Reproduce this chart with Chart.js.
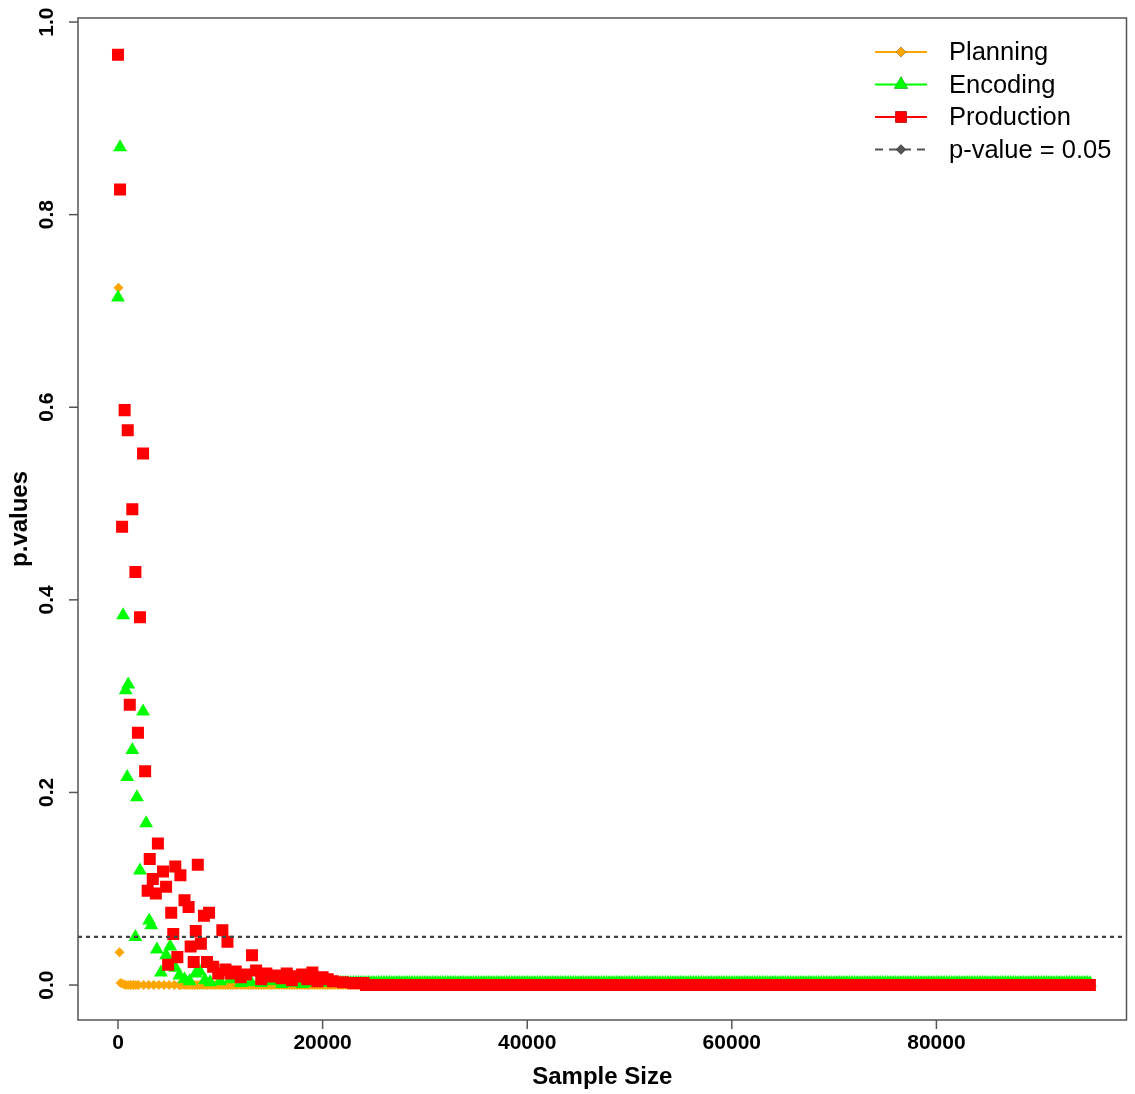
<!DOCTYPE html>
<html>
<head>
<meta charset="utf-8">
<script src="https://cdn.jsdelivr.net/npm/chart.js@4"></script>
<style>
  html, body { margin: 0; padding: 0; background: #fff; }
  #wrap { width: 1135px; height: 1094px; }
</style>
</head>
<body>
<div id="wrap"><canvas id="c"></canvas></div>
<script>
// ── Data ───────────────────────────────────────────────────────────

const X_TICKS = [0, 20000, 40000, 60000, 80000];
const Y_TICKS = [0.0, 0.2, 0.4, 0.6, 0.8, 1.0];
const Y_TICK_LABELS = ['0.0', '0.2', '0.4', '0.6', '0.8', '1.0'];

// early, clearly separated points
const planX = [50, 150, 250, 500, 750, 1000, 1250, 1500, 1750, 2000, 2500, 3000, 3500, 4000, 4500, 5000, 5500, 6000];
const planY = [0.724, 0.034, 0.002, 0.001, 0.0, 0.0, 0.0, 0.0, 0.0, 0.0, 0.0, 0.0, 0.0, 0.0, 0.0, 0.0, 0.0, 0.0];

const encX = [0, 200, 500, 750, 1000, 900, 1400, 1850, 2150, 2450, 2750, 3050, 3250, 1700,
  3800, 4200, 4700, 5100, 5600, 6000, 6500, 7000, 7600, 8000, 8500, 9000, 10000, 11000, 12000, 13000, 14000, 15000, 16000, 17000, 18000];
const encY = [0.714, 0.870, 0.384, 0.306, 0.312, 0.216, 0.244, 0.195, 0.119, 0.284, 0.168, 0.067, 0.062, 0.050,
  0.037, 0.013, 0.031, 0.040, 0.018, 0.010, 0.006, 0.004, 0.012, 0.014, 0.005, 0.003, 0.004, 0.006, 0.002, 0.003, 0.002, 0.004, 0.001, 0.002, 0.001];

const prodX = [0, 200, 400, 650, 950, 1150, 1400, 1700, 1950, 2150, 2450, 2650,
  3900, 3100, 4400, 5600, 6100, 7800, 3400, 2900, 3700, 4700, 6500, 6900, 5200, 8400, 8900,
  5400, 7600, 10200, 7100, 8100, 10700, 5800, 4900, 7400, 8700, 9300, 13100];
const prodY = [0.966, 0.826, 0.476, 0.597, 0.576, 0.291, 0.494, 0.429, 0.262, 0.382, 0.552, 0.222,
  0.147, 0.131, 0.118, 0.123, 0.114, 0.125, 0.110, 0.098, 0.095, 0.102, 0.088, 0.081, 0.075, 0.072, 0.075,
  0.053, 0.056, 0.057, 0.040, 0.043, 0.045, 0.029, 0.021, 0.024, 0.024, 0.019, 0.031];

// 10000–24000 band of red squares just above zero
const prodMidX = [9800, 10500, 11000, 11500, 12000, 12500, 13500, 14000, 14500, 15000, 15500, 16000,
  16500, 17000, 17500, 18000, 18500, 19000, 19500, 20000, 20500, 21000, 22000, 23000, 24000];
const prodMidY = [0.012, 0.016, 0.012, 0.014, 0.008, 0.011, 0.015, 0.006, 0.012, 0.009, 0.010, 0.007,
  0.012, 0.005, 0.009, 0.011, 0.006, 0.013, 0.004, 0.008, 0.006, 0.004, 0.003, 0.002, 0.002];

// tail: sample sizes 6000..95000 where every p-value reads as ~0
const TAIL_START = 6000, TAIL_END = 95000, TAIL_STEP = 250;
const tailPlanY = 0.0;
const tailEncY = 0.002;
const tailProdY = 0.0;

const ALPHA = 0.05;

// ── Build datasets ─────────────────────────────────────────────────

const tailX = [];
for (let s = TAIL_START; s <= TAIL_END; s += TAIL_STEP) tailX.push(s);

const pts = (xs, ys) => xs.map((x, i) => ({ x, y: ys[i] }));

const planning = pts(planX, planY).concat(tailX.map(x => ({ x, y: tailPlanY })));
const encoding = pts(encX, encY).concat(tailX.filter(x => x > 18000).map(x => ({ x, y: tailEncY })));
const production = pts(prodX, prodY).concat(pts(prodMidX, prodMidY),
  tailX.filter(x => x > 24000).map(x => ({ x, y: tailProdY })));

const FONT = '"Liberation Sans", Arial, sans-serif';

// ── Axes / legend drawn R-style ────────────────────────────────────

const rAxes = {
  id: 'rAxes',
  afterDraw(chart) {
    const { ctx, chartArea: a, scales: { x, y } } = chart;
    ctx.save();
    // threshold line
    ctx.strokeStyle = '#444';
    ctx.lineWidth = 2.2;
    ctx.setLineDash([4, 4]);
    const yy = y.getPixelForValue(ALPHA);
    ctx.beginPath(); ctx.moveTo(a.left, yy); ctx.lineTo(a.right, yy); ctx.stroke();
    ctx.setLineDash([]);

    // box
    ctx.strokeStyle = '#555';
    ctx.lineWidth = 1.5;
    ctx.strokeRect(a.left, a.top, a.right - a.left, a.bottom - a.top);

    ctx.fillStyle = '#000';
    ctx.font = 'bold 21px ' + FONT;
    // x ticks
    ctx.textAlign = 'center'; ctx.textBaseline = 'top';
    X_TICKS.forEach(v => {
      const px = x.getPixelForValue(v);
      ctx.beginPath(); ctx.moveTo(px, a.bottom); ctx.lineTo(px, a.bottom + 9); ctx.stroke();
      ctx.fillText(String(v), px, a.bottom + 13);
    });
    // y ticks (rotated)
    Y_TICKS.forEach((v, i) => {
      const py = y.getPixelForValue(v);
      ctx.beginPath(); ctx.moveTo(a.left, py); ctx.lineTo(a.left - 9, py); ctx.stroke();
      ctx.save();
      ctx.translate(a.left - 20, py);
      ctx.rotate(-Math.PI / 2);
      ctx.textAlign = 'center'; ctx.textBaseline = 'bottom';
      ctx.fillText(Y_TICK_LABELS[i], 0, 0);
      ctx.restore();
    });

    // axis titles
    ctx.font = 'bold 24px ' + FONT;
    ctx.textAlign = 'center'; ctx.textBaseline = 'middle';
    ctx.fillText('Sample Size', (a.left + a.right) / 2, 1077);
    ctx.save();
    ctx.translate(20, (a.top + a.bottom) / 2);
    ctx.rotate(-Math.PI / 2);
    ctx.fillText('p.values', 0, 0);
    ctx.restore();

    // legend
    const items = [
      { label: 'Planning', color: 'orange', style: 'rectRot', r: 5 },
      { label: 'Encoding', color: '#00ff00', style: 'triangle', r: 8 },
      { label: 'Production', color: '#ff0000', style: 'rect', r: 8 },
      { label: 'p-value = 0.05', color: '#555', style: 'rectRot', r: 5, dash: true },
    ];
    ctx.font = '25.5px ' + FONT;
    ctx.textAlign = 'left';
    items.forEach((it, i) => {
      const ly = 52 + i * 32.5;
      ctx.strokeStyle = it.color;
      ctx.lineWidth = 2;
      ctx.setLineDash(it.dash ? [8, 6] : []);
      ctx.beginPath(); ctx.moveTo(875, ly); ctx.lineTo(927, ly); ctx.stroke();
      ctx.setLineDash([]);
      Chart.helpers.drawPoint(ctx, { pointStyle: it.style, radius: it.r, borderWidth: 0 }, 901, ly);
      ctx.fillStyle = it.color; ctx.fill();
      ctx.fillStyle = '#000';
      ctx.fillText(it.label, 949, ly + 1);
    });
    ctx.restore();
  },
};

new Chart(document.getElementById('c'), {
  type: 'scatter',
  data: {
    datasets: [
      { label: 'Planning', data: planning, order: 3, pointStyle: 'rectRot', pointRadius: 5,
        backgroundColor: 'orange', borderWidth: 0 },
      { label: 'Encoding', data: encoding, order: 2, pointStyle: 'triangle', pointRadius: 8,
        backgroundColor: '#00ff00', borderWidth: 0 },
      { label: 'Production', data: production, order: 1, pointStyle: 'rect', pointRadius: 8.5,
        backgroundColor: '#ff0000', borderWidth: 0 },
    ],
  },
  options: {
    responsive: true,
    maintainAspectRatio: false,
    animation: false,
    events: [],
    layout: { padding: { left: 78, top: 18, right: 8, bottom: 74 } },
    plugins: { legend: { display: false }, tooltip: { enabled: false } },
    scales: {
      x: { type: 'linear', display: false, min: -3910, max: 98580 },
      y: { type: 'linear', display: false, min: -0.0363, max: 1.0042 },
    },
  },
  plugins: [rAxes],
});
</script>
</body>
</html>
